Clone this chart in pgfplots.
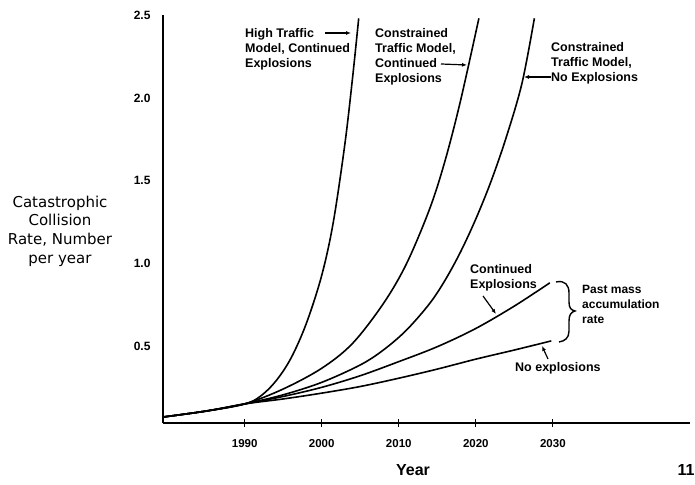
\documentclass[border=0pt]{standalone}
\usepackage{pgfplots}
\pgfplotsset{compat=1.18}
\usepackage{fontspec}
\setmainfont{Liberation Sans}
\newfontfamily\ylabfont{DejaVu Sans}
\usetikzlibrary{arrows.meta}

\pgfplotstableread{
year rate
1979.4 0.076
1985 0.112
1990 0.155
1995 0.185
2000 0.22
2005 0.26
2010 0.31
2015 0.365
2020 0.425
2025 0.48
2029.8 0.535
}\noexpl
\pgfplotstableread{
year rate
1979.4 0.076
1985 0.112
1990 0.155
1995 0.20
2000 0.255
2005 0.325
2010 0.41
2015 0.50
2020 0.61
2025 0.745
2029.6 0.885
}\contexpl
\pgfplotstableread{
year rate
1979.4 0.076
1985 0.112
1990 0.155
1995 0.21
2000 0.285
2005 0.39
2008 0.48
2011 0.60
2014 0.76
2016 0.90
2018 1.07
2020 1.27
2022 1.50
2024 1.77
2026 2.09
2027.6 2.48
}\constnoexpl
\pgfplotstableread{
year rate
1979.4 0.076
1985 0.112
1990 0.155
1995 0.245
2000 0.37
2004 0.52
2008 0.76
2011 1.00
2014 1.33
2016 1.62
2018 1.98
2020.4 2.48
}\constcont
\pgfplotstableread{
year rate
1979.4 0.076
1985 0.112
1990 0.155
1992 0.20
1994 0.29
1996 0.43
1998 0.64
2000 0.93
2001.5 1.25
2003 1.72
2004 2.12
2004.8 2.48
}\hightraffic

\begin{document}
\begin{tikzpicture}
\path[use as bounding box] (0pt,0pt) rectangle (695pt,484pt);
\begin{axis}[
  at={(163pt,61pt)}, anchor=south west,
  scale only axis, width=527pt, height=408pt,
  xmin=1979.4, xmax=2047.8, ymin=0.04, ymax=2.5,
  axis lines=left,
  axis line style={-, line width=1.2pt},
  xtick={1990,2000,2010,2020,2030},
  ytick={0.5,1.0,1.5,2.0,2.5},
  tick align=center,
  major tick length=8pt,
  xtick style={line width=1.2pt, black},
  ytick style={draw=none},
  /pgf/number format/assume math mode=true,
  xticklabel style={font=\fontsize{11.5}{13}\selectfont\bfseries, yshift=-9pt},
  xticklabel={\pgfmathprintnumber[1000 sep={}]{\tick}},
  yticklabel style={font=\fontsize{12}{14}\selectfont\bfseries, xshift=-5pt,
    /pgf/number format/fixed, /pgf/number format/fixed zerofill, /pgf/number format/precision=1},
  clip=true,
]
\addplot[line width=1.6pt, smooth, tension=0.55] table[x=year,y=rate] {\noexpl};
\addplot[line width=1.6pt, smooth, tension=0.55] table[x=year,y=rate] {\contexpl};
\addplot[line width=1.6pt, smooth, tension=0.55] table[x=year,y=rate] {\constnoexpl};
\addplot[line width=1.6pt, smooth, tension=0.55] table[x=year,y=rate] {\constcont};
\addplot[line width=1.6pt, smooth, tension=0.55] table[x=year,y=rate] {\hightraffic};
\end{axis}
\begin{scope}[x=1pt, y=1pt, shift={(0pt,484pt)}, yscale=-1]
  % y label
  \node[font=\ylabfont\fontsize{15}{18.7}\selectfont, align=center] at (60,231)
    {Catastrophic\\Collision\\Rate, Number\\per year};
  % x label and page number
  \node[font=\fontsize{16}{18}\selectfont\bfseries] at (413,470) {Year};
  \node[font=\fontsize{16}{18}\selectfont\bfseries] at (686,470) {11};
  % annotations
  \tikzset{ann/.style={font=\fontsize{12.5}{15}\selectfont\bfseries, align=left, inner sep=0pt, anchor=north west}}
  \node[ann] at (245,28.5) {High Traffic\\Model, Continued\\Explosions};
  \node[ann] at (375,28.5) {Constrained\\Traffic Model,\\Continued\\Explosions};
  \node[ann] at (551,42.5) {Constrained\\Traffic Model,\\No Explosions};
  \node[ann] at (470,264.5) {Continued\\Explosions};
  \node[ann] at (515,362.5) {No explosions};
  \node[ann, font=\fontsize{12}{15}\selectfont\bfseries] at (582,285.5) {Past mass\\accumulation\\rate};
  % arrows
  \tikzset{arr/.style={line width=1.2pt, -{Latex[length=5pt,width=4pt]}}}
  \draw[arr] (325,33) -- (351,33);
  \draw[arr] (441,64) -- (467,65);
  \draw[arr] (551,77) -- (524,77);
  \draw[arr] (483,296) -- (496,314);
  \draw[arr] (548,359) -- (542,346);
  % brace
  \draw[line width=1.4pt] (556,282) .. controls (565,280) and (569,285) .. (569,293)
     -- (569,302) .. controls (569,308) and (571,310) .. (575,311)
     .. controls (571,312) and (569,315) .. (569,321)
     -- (569,331) .. controls (569,338) and (565,341) .. (559,342);
\end{scope}
\end{tikzpicture}
\end{document}
